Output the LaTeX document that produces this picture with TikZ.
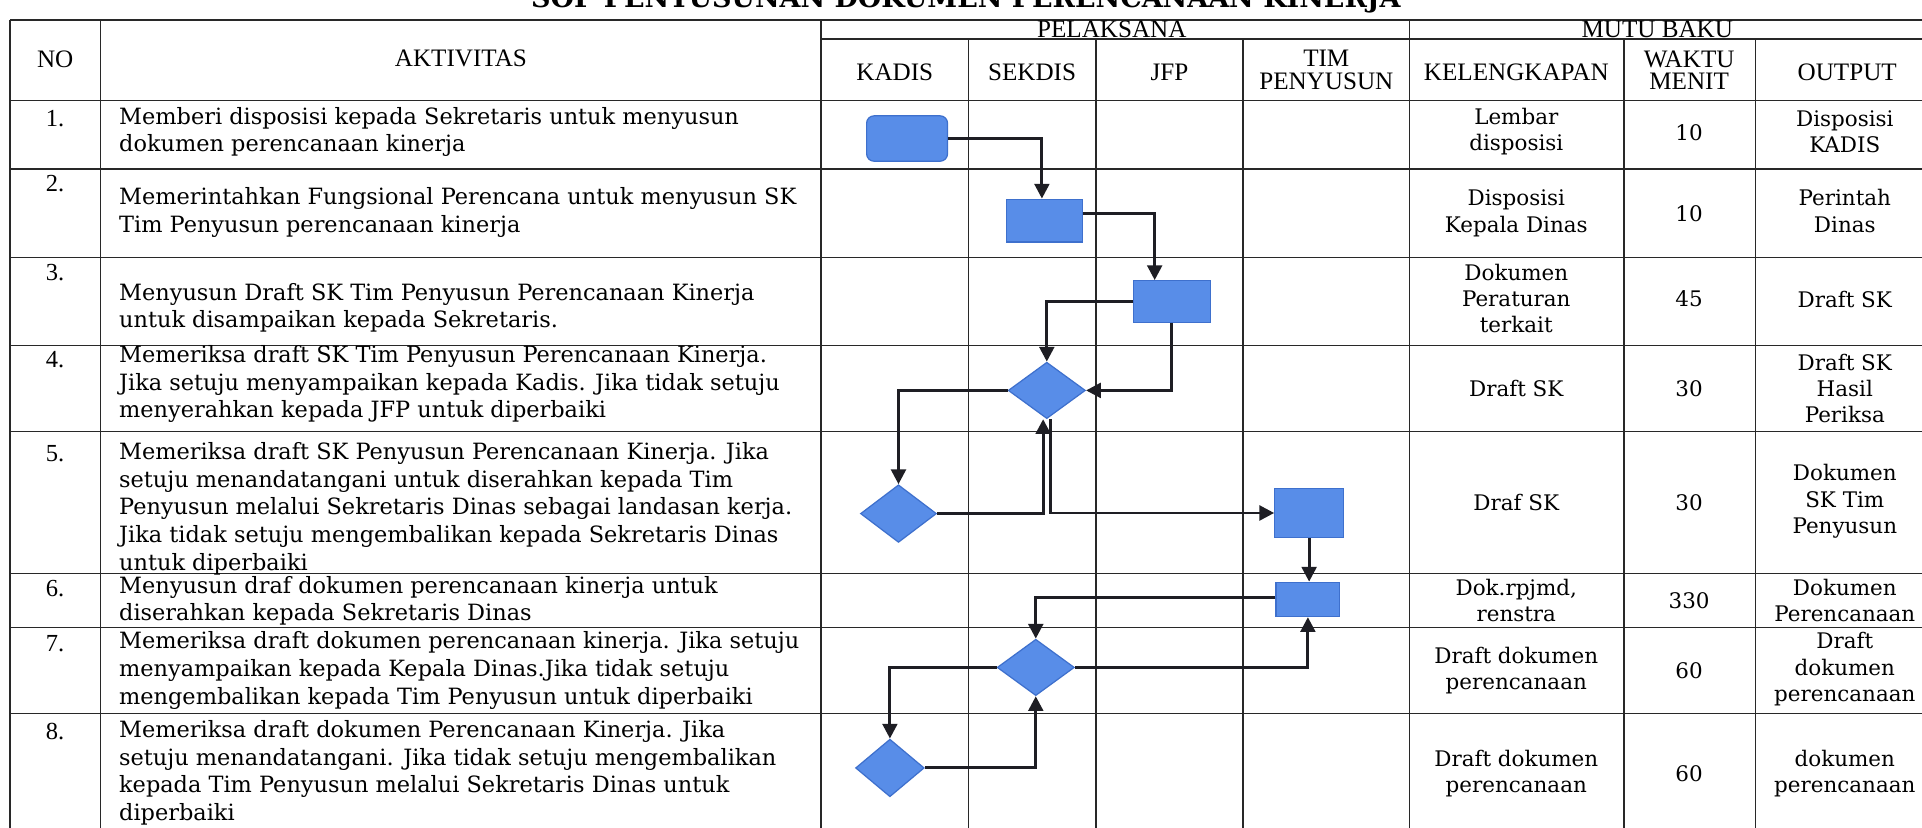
\documentclass[tikz,border=0pt]{standalone}
\usepackage{fontspec}
\setmainfont{Liberation Serif}
\newfontfamily\bkfont{DejaVu Serif}
\usetikzlibrary{arrows.meta,shapes.geometric}
\definecolor{shapefill}{RGB}{88,141,232}
\definecolor{shapeline}{RGB}{62,112,205}
\definecolor{linec}{RGB}{30,30,36}
\definecolor{gridc}{RGB}{40,40,40}
\begin{document}
\begin{tikzpicture}[x=1pt,y=-1pt,
  gridline/.style={draw=gridc, line width=1.3pt},
  hdr/.style={font=\fontsize{20.5}{18}\selectfont, align=center, inner sep=0pt},
  numtxt/.style={font=\fontsize{20}{20}\selectfont, inner sep=0pt},
  acttxt/.style={font=\bkfont\fontsize{18.3}{22.5}\selectfont, align=left, anchor=west, inner sep=0pt},
  mbtxt/.style={font=\bkfont\fontsize{17.5}{21.5}\selectfont, align=center, inner sep=0pt},
  procbox/.style={rectangle, draw=shapeline, fill=shapefill, line width=1pt, inner sep=0pt},
  startbox/.style={procbox, rounded corners=6pt},
  decision/.style={diamond, draw=shapeline, fill=shapefill, line width=1pt, inner sep=0pt},
  flow/.style={draw=linec, line width=2.4pt, -{Triangle[length=12pt,width=12pt]}},
]
\useasboundingbox (0,0) rectangle (1568,675);
\fill[white] (0,0) rectangle (1568,675);

% title (partly cut off at the top, as in the scan)
\node[font=\bkfont\bfseries\fontsize{22}{22}\selectfont, anchor=base] (title) at (788,6) {SOP PENYUSUNAN DOKUMEN PERENCANAAN KINERJA};

% grid
\draw[gridline, line width=1.7pt] (8,16) -- (1580,16);
\draw[gridline] (670,32) -- (1580,32);
\foreach \yy in {82,138,210,282,352,468,512,582} \draw[gridline] (8,\yy) -- (1580,\yy);
\foreach \xx in {8,82,670,1150} \draw[gridline] (\xx,16) -- (\xx,680);
\foreach \xx in {790,894,1014,1325,1432} \draw[gridline] (\xx,32) -- (\xx,680);

% header
\node[hdr] (hno) at (45,48) {NO};
\node[hdr] (hakt) at (376,48) {AKTIVITAS};
\node[hdr] (hpel) at (907,24) {PELAKSANA};
\node[hdr] (hmutu) at (1352,24) {MUTU BAKU};
\node[hdr] (hkadis) at (730,59) {KADIS};
\node[hdr] (hsek) at (842,59) {SEKDIS};
\node[hdr] (hjfp) at (954,59) {JFP};
\node[hdr] (htim) at (1082,57) {TIM\\PENYUSUN};
\node[hdr] (hkel) at (1237,59) {KELENGKAPAN};
\node[hdr] (hwak) at (1378,57) {WAKTU\\MENIT};
\node[hdr] (hout) at (1507,59) {OUTPUT};

% numbers
\node[numtxt] (n1) at (45,97) {1.};
\node[numtxt] (n2) at (45,150) {2.};
\node[numtxt] (n3) at (45,222) {3.};
\node[numtxt] (n4) at (45,293) {4.};
\node[numtxt] (n5) at (45,370) {5.};
\node[numtxt] (n6) at (45,480) {6.};
\node[numtxt] (n7) at (45,525) {7.};
\node[numtxt] (n8) at (45,597) {8.};

% activities
\node[acttxt] (a1) at (97,107.5) {Memberi disposisi kepada Sekretaris untuk menyusun\\dokumen perencanaan kinerja};
\node[acttxt] (a2) at (97,173.5) {Memerintahkan Fungsional Perencana untuk menyusun SK\\Tim Penyusun perencanaan kinerja};
\node[acttxt] (a3) at (97,251) {Menyusun Draft SK Tim Penyusun Perencanaan Kinerja\\untuk disampaikan kepada Sekretaris.};
\node[acttxt] (a4) at (97,313.5) {Memeriksa draft SK Tim Penyusun Perencanaan Kinerja.\\Jika setuju menyampaikan kepada Kadis. Jika tidak setuju\\menyerahkan kepada JFP untuk diperbaiki};
\node[acttxt] (a5) at (97,415) {Memeriksa draft SK Penyusun Perencanaan Kinerja. Jika\\setuju menandatangani untuk diserahkan kepada Tim\\Penyusun melalui Sekretaris Dinas sebagai landasan kerja.\\Jika tidak setuju mengembalikan kepada Sekretaris Dinas\\untuk diperbaiki};
\node[acttxt] (a6) at (97,490) {Menyusun draf dokumen perencanaan kinerja untuk\\diserahkan kepada Sekretaris Dinas};
\node[acttxt] (a7) at (97,547) {Memeriksa draft dokumen perencanaan kinerja. Jika setuju\\menyampaikan kepada Kepala Dinas.Jika tidak setuju\\mengembalikan kepada Tim Penyusun untuk diperbaiki};
\node[acttxt] (a8) at (97,630.5) {Memeriksa draft dokumen Perencanaan Kinerja. Jika\\setuju menandatangani. Jika tidak setuju mengembalikan\\kepada Tim Penyusun melalui Sekretaris Dinas untuk\\diperbaiki};

% kelengkapan
\node[mbtxt] (k1) at (1237,107.5) {Lembar\\disposisi};
\node[mbtxt] (k2) at (1237,174) {Disposisi\\Kepala Dinas};
\node[mbtxt] (k3) at (1237,243.5) {Dokumen\\Peraturan\\terkait};
\node[mbtxt] (k4) at (1237,317) {Draft SK};
\node[mbtxt] (k5) at (1237,410) {Draf SK};
\node[mbtxt] (k6) at (1237,490) {Dok.rpjmd,\\renstra};
\node[mbtxt] (k7) at (1237,547) {Draft dokumen\\perencanaan};
\node[mbtxt] (k8) at (1237,631) {Draft dokumen\\perencanaan};

% waktu
\node[mbtxt] (w1) at (1378,108) {10};
\node[mbtxt] (w2) at (1378,174) {10};
\node[mbtxt] (w3) at (1378,244) {45};
\node[mbtxt] (w4) at (1378,317) {30};
\node[mbtxt] (w5) at (1378,410) {30};
\node[mbtxt] (w6) at (1378,490) {330};
\node[mbtxt] (w7) at (1378,547) {60};
\node[mbtxt] (w8) at (1378,631) {60};

% output
\node[mbtxt] (o1) at (1505,107.5) {Disposisi\\KADIS};
\node[mbtxt] (o2) at (1505,172) {Perintah\\Dinas};
\node[mbtxt] (o3) at (1505,244) {Draft SK};
\node[mbtxt] (o4) at (1505,317) {Draft SK\\Hasil\\Periksa};
\node[mbtxt] (o5) at (1505,409) {Dokumen\\SK Tim\\Penyusun};
\node[mbtxt] (o6) at (1505,490) {Dokumen\\Perencanaan};
\node[mbtxt] (o7) at (1505,546) {Draft\\dokumen\\perencanaan};
\node[mbtxt] (o8) at (1505,631) {dokumen\\perencanaan};

% flow shapes
\node[startbox, minimum width=66pt, minimum height=37pt] (s1) at (740,113) {};
\node[procbox, minimum width=62pt, minimum height=35pt] (s2) at (852,180) {};
\node[procbox, minimum width=63pt, minimum height=34pt] (s3) at (956,246) {};
\node[decision, minimum width=63pt, minimum height=46pt] (d4) at (854,318.5) {};
\node[decision, minimum width=62pt, minimum height=47pt] (d5) at (733,419) {};
\node[procbox, minimum width=56pt, minimum height=40pt] (s5) at (1068,418.5) {};
\node[procbox, minimum width=52pt, minimum height=28pt] (s6) at (1067,489) {};
\node[decision, minimum width=63pt, minimum height=46pt] (d7) at (845,544.5) {};
\node[decision, minimum width=56pt, minimum height=47pt] (d8) at (726,626.5) {};

% connectors
\draw[flow] (s1.east) -| ([xshift=-2pt]s2.north);
\draw[flow] ([yshift=6pt]s2.east) -| ([xshift=-14pt]s3.north);
\draw[flow] (s3.west) -| (d4.north);
\draw[flow] (s3.south) |- (d4.east);
\draw[flow] (d4.west) -| (d5.north);
\draw[flow] (d5.east) -| ([xshift=-3pt]d4.south);
\draw[flow] ([xshift=3pt]d4.south) |- (s5.west);
\draw[flow] (s5.south) -- (s5.south |- s6.north);
\draw[flow] ([yshift=1.5pt]s6.west) -| (d7.north);
\draw[flow] (d7.east) -| (s6.south);
\draw[flow] (d7.west) -| (d8.north);
\draw[flow] (d8.east) -| (d7.south);
\end{tikzpicture}
\end{document}
